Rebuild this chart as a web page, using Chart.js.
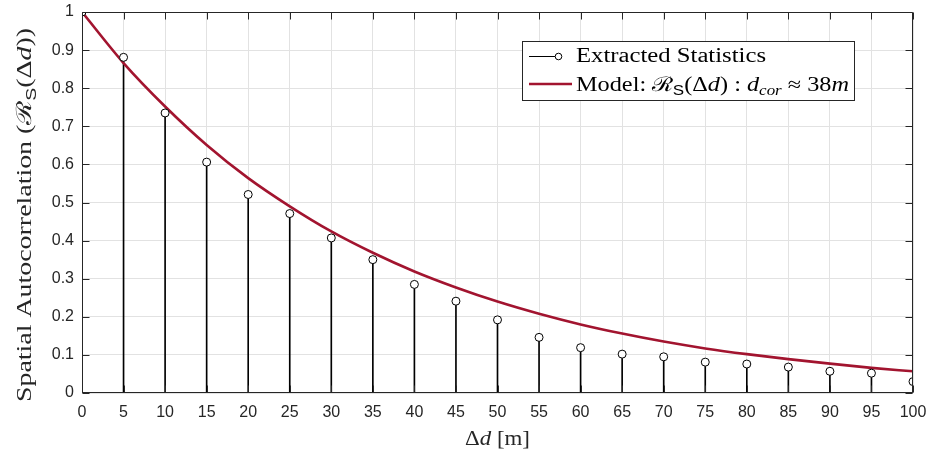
<!DOCTYPE html>
<html><head><meta charset="utf-8">
<script src="https://cdn.jsdelivr.net/npm/chart.js@4/dist/chart.umd.min.js"></script>
<style>html,body{margin:0;padding:0;background:#fff}#wrap{width:927px;height:449px}</style>
</head><body><div id="wrap"><canvas id="c" width="927" height="449"></canvas></div>
<script>
// ---- data ----
const distances = [0,5,10,15,20,25,30,35,40,45,50,55,60,65,70,75,80,85,90,95,100];
const extracted = [1.000,0.881,0.735,0.606,0.521,0.471,0.407,0.350,0.285,0.241,0.192,0.146,0.119,0.102,0.095,0.081,0.076,0.068,0.057,0.052,0.030];
const modelFit  = [1.000,0.866,0.752,0.651,0.564,0.490,0.424,0.368,0.319,0.277,0.240,0.208,0.180,0.156,0.135,0.117,0.102,0.089,0.077,0.066,0.057];
const xTickStep = 5;
const yTickStep = 0.1;
const legendLabels = ['Extracted Statistics', 'Model'];

const SERIF = "'Liberation Serif','DejaVu Serif',serif";
const SANS = "'Liberation Sans','DejaVu Sans',sans-serif";
const INK = '#262626';
const RED = '#A2142F';

function segFont(g, size){
  const s = g.sub ? size*0.7 : size;
  return (g.it ? 'italic ' : '') + s + 'px ' + (g.sans ? SANS : SERIF);
}
function richMeasure(ctx, segs, size){
  let w = 0;
  for (const g of segs){ ctx.font = segFont(g, size); w += ctx.measureText(g.t).width; }
  return w;
}
function richDraw(ctx, segs, x, y, size){
  let cx = x;
  for (const g of segs){
    ctx.font = segFont(g, size);
    ctx.fillText(g.t, cx, y + (g.sub ? size*0.22 : 0));
    cx += ctx.measureText(g.t).width;
  }
}
function richFit(ctx, segs, x, y, size, targetW, center){
  const w = richMeasure(ctx, segs, size);
  const sx = targetW / w;
  ctx.save();
  ctx.translate(x, y);
  ctx.scale(sx, 1);
  ctx.textBaseline = 'alphabetic';
  ctx.textAlign = 'left';
  richDraw(ctx, segs, center ? -w/2 : 0, 0, size);
  ctx.restore();
}

const yTitle = [
  {t:'Spatial Autocorrelation ('}, {t:'\u211B'}, {t:'S', sub:true, sans:true},
  {t:'(\u0394'}, {t:'d', it:true}, {t:'))'}
];
const xTitle = [{t:'\u0394'}, {t:'d', it:true}, {t:' [m]'}];
const leg1 = [{t: legendLabels[0]}];
const leg2 = [
  {t: legendLabels[1] + ': '}, {t:'\u211B'}, {t:'S', sub:true, sans:true},
  {t:'(\u0394'}, {t:'d', it:true}, {t:') : '}, {t:'d', it:true},
  {t:'cor', it:true, sub:true}, {t:' \u2248 38'}, {t:'m', it:true}
];

const decor = {
  id: 'decor',
  afterDraw(chart){
    const ctx = chart.ctx;
    const a = chart.chartArea;
    const xs = chart.scales.x, ys = chart.scales.y;
    const L = Math.round(a.left)+0.5, R = Math.round(a.right)-0.5;
    const T = Math.round(a.top)+0.5, B = Math.round(a.bottom)-0.5;
    ctx.save();
    ctx.strokeStyle = INK; ctx.lineWidth = 1;
    ctx.beginPath();
    ctx.rect(L, T, R-L, B-T);
    const tl = 7;
    for (const t of xs.ticks){
      const px = Math.round(xs.getPixelForValue(t.value))+0.5;
      ctx.moveTo(px, T); ctx.lineTo(px, T+tl);
      ctx.moveTo(px, B); ctx.lineTo(px, B-tl);
    }
    for (const t of ys.ticks){
      const py = Math.round(ys.getPixelForValue(t.value))+0.5;
      ctx.moveTo(L, py); ctx.lineTo(L+tl, py);
      ctx.moveTo(R, py); ctx.lineTo(R-tl, py);
    }
    ctx.stroke();

    // axis titles
    ctx.fillStyle = INK;
    richFit(ctx, xTitle, (a.left+a.right)/2, 445, 21, 65, true);
    ctx.save();
    ctx.translate(31, 215);
    ctx.rotate(-Math.PI/2);
    richFit(ctx, yTitle, 0, 0, 21, 374, true);
    ctx.restore();

    // legend
    const bx = 522.5, by = 41.5, bw = 332, bh = 59;
    ctx.fillStyle = '#fff';
    ctx.fillRect(bx, by, bw, bh);
    ctx.strokeStyle = INK; ctx.lineWidth = 1;
    ctx.strokeRect(bx, by, bw, bh);
    // row 1 : stem sample
    ctx.strokeStyle = '#000'; ctx.lineWidth = 1;
    ctx.beginPath(); ctx.moveTo(529, 56.5); ctx.lineTo(555, 56.5); ctx.stroke();
    ctx.beginPath(); ctx.arc(558.5, 56.5, 3.3, 0, Math.PI*2); ctx.stroke();
    // row 2 : model sample
    ctx.strokeStyle = RED; ctx.lineWidth = 2.5;
    ctx.beginPath(); ctx.moveTo(529, 84); ctx.lineTo(572, 84); ctx.stroke();
    ctx.fillStyle = '#000';
    richFit(ctx, leg1, 576, 62, 20, 190, false);
    richFit(ctx, leg2, 576, 91, 20, 273, false);
    ctx.restore();
  }
};

const pts = (ys) => distances.map((x, i) => ({x: x, y: ys[i]}));
const noPad = (s) => { s.paddingLeft = 0; s.paddingRight = 0; s.paddingTop = 0; s.paddingBottom = 0; };

new Chart(document.getElementById('c'), {
  type: 'bar',
  data: {
    datasets: [
      { type: 'scatter', label: legendLabels[0] + ' markers', data: pts(extracted),
        pointStyle: 'circle', pointRadius: 4, pointBorderWidth: 1,
        pointBorderColor: '#000', pointBackgroundColor: '#fff', order: 0 },
      { type: 'line', label: legendLabels[1], data: pts(modelFit),
        borderColor: RED, borderWidth: 2.6, pointRadius: 0, fill: false,
        cubicInterpolationMode: 'monotone', order: 1 },
      { type: 'bar', label: legendLabels[0], data: pts(extracted),
        backgroundColor: '#000', barThickness: 1, order: 2 }
    ]
  },
  options: {
    responsive: false, animation: false, devicePixelRatio: 1,
    layout: { padding: { top: 12, right: 14, left: 0, bottom: 0 } },
    plugins: { legend: { display: false }, tooltip: { enabled: false } },
    scales: {
      x: {
        type: 'linear', min: 0, max: 100, offset: false,
        grid: { color: '#e2e2e2', drawTicks: false, offset: false },
        border: { display: false },
        ticks: { stepSize: xTickStep, color: INK, padding: 10,
                 font: { family: SANS, size: 16 }, maxRotation: 0, autoSkip: false },
        afterFit: (s) => { s.height = 56; noPad(s); }
      },
      y: {
        min: 0, max: 1,
        grid: { color: '#e2e2e2', drawTicks: false },
        border: { display: false },
        ticks: { stepSize: yTickStep, color: INK, padding: 8,
                 font: { family: SANS, size: 16 },
                 callback: (v) => String(Math.round(v*10)/10) },
        afterFit: (s) => { s.width = 82; noPad(s); }
      }
    }
  },
  plugins: [decor]
});
</script>
</body></html>
